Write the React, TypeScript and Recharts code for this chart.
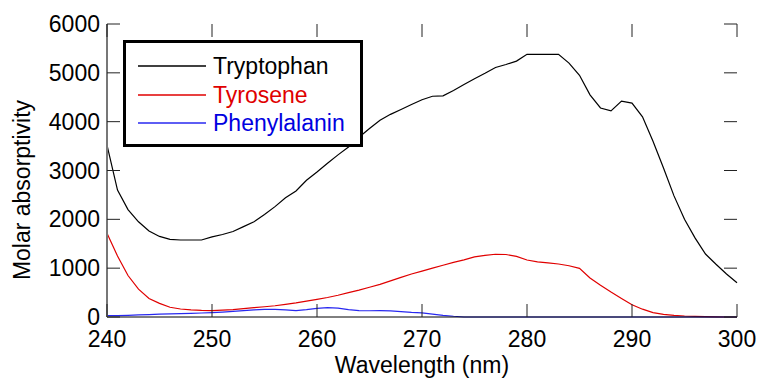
import { LineChart, Line, XAxis, YAxis, Legend } from "recharts";

const wavelengths = [
  240, 241, 242, 243, 244, 245, 246, 247, 248, 249, 250, 251, 252, 253, 254, 255, 256, 257, 258, 259,
  260, 261, 262, 263, 264, 265, 266, 267, 268, 269, 270, 271, 272, 273, 274, 275, 276, 277, 278, 279,
  280, 281, 282, 283, 284, 285, 286, 287, 288, 289, 290, 291, 292, 293, 294, 295, 296, 297, 298, 299, 300,
];

const tryptophan = [
  3520, 2600, 2200, 1950, 1760, 1650, 1590, 1577, 1577, 1577, 1640, 1690, 1750, 1850, 1950, 2100, 2260, 2440, 2580, 2800,
  2970, 3150, 3320, 3480, 3680, 3860, 4030, 4150, 4250, 4350, 4450, 4520, 4530, 4640, 4760, 4880, 4990, 5110, 5170, 5240,
  5380, 5380, 5380, 5380, 5200, 4950, 4550, 4280, 4220, 4420, 4380, 4100, 3600, 3050, 2480, 2000, 1620, 1290, 1080, 880, 700,
];

const tyrosene = [
  1713, 1250, 850, 570, 380, 280, 200, 164, 145, 135, 130, 140, 150, 170, 190, 210, 230, 260, 290, 325,
  362, 400, 445, 500, 550, 610, 669, 740, 810, 880, 940, 1000, 1060, 1120, 1170, 1230, 1260, 1285, 1280, 1240,
  1167, 1130, 1110, 1085, 1050, 997, 800, 650, 510, 380, 250, 160, 89, 55, 35, 20, 12, 6, 3, 0, 0,
];

const phenylalanin = [
  27, 30, 35, 42, 50, 58, 65, 70, 75, 82, 89, 100, 115, 130, 145, 155, 157, 145, 132, 150,
  175, 191, 180, 150, 130, 128, 130, 125, 110, 95, 85, 60, 35, 15, 0, 0, 0, 0, 0, 0,
  0, 0, 0, 0, 0, 0, 0, 0, 0, 0, 0, 0, 0, 0, 0, 0, 0, 0, 0, 0, 0,
];

const xTicks = [240, 250, 260, 270, 280, 290, 300];
const yTicks = [0, 1000, 2000, 3000, 4000, 5000, 6000];

const series = [
  { key: "tryptophan", name: "Tryptophan", color: "#000000", text: "#000000" },
  { key: "tyrosene", name: "Tyrosene", color: "#e00000", text: "#e00000" },
  { key: "phenylalanin", name: "Phenylalanin", color: "#2828f0", text: "#0000e0" },
];

const data = wavelengths.map((w, i) => ({
  w,
  tryptophan: tryptophan[i],
  tyrosene: tyrosene[i],
  phenylalanin: phenylalanin[i],
}));

const FONT = "'Liberation Sans', Arial, sans-serif";
const PLOT_TOP = 24;
const PLOT_LEFT = 107;
const PLOT_RIGHT = 737;
const TICK_LEN = 13;

function XTick({ x, y, payload }: any) {
  return (
    <g>
      <line x1={x} y1={y} x2={x} y2={y - TICK_LEN} stroke="#222" />
      <line x1={x} y1={PLOT_TOP} x2={x} y2={PLOT_TOP + TICK_LEN} stroke="#222" />
      <text x={x} y={y + 30} textAnchor="middle" fontSize={23} fontFamily={FONT} fill="#000">
        {payload.value}
      </text>
    </g>
  );
}

function YTick({ x, y, payload }: any) {
  return (
    <g>
      <line x1={PLOT_LEFT} y1={y} x2={PLOT_LEFT + TICK_LEN} y2={y} stroke="#222" />
      <line x1={PLOT_RIGHT} y1={y} x2={PLOT_RIGHT - TICK_LEN} y2={y} stroke="#222" />
      <text x={x - 7} y={y + 8} textAnchor="end" fontSize={23} fontFamily={FONT} fill="#000">
        {payload.value}
      </text>
    </g>
  );
}

function LegendBox() {
  return (
    <div
      style={{
        border: "3px solid #000",
        background: "#fff",
        width: 240,
        height: 107,
        boxSizing: "border-box",
        paddingTop: 9,
        fontFamily: FONT,
        fontSize: 23,
        textAlign: "left",
      }}
    >
      {series.map((s) => (
        <div key={s.key} style={{ display: "flex", alignItems: "center", height: 28.5 }}>
          <svg width={68} height={6} style={{ marginLeft: 12, marginRight: 7, display: "block" }}>
            <line x1={0} y1={3} x2={68} y2={3} stroke={s.color} strokeWidth={1.3} />
          </svg>
          <span style={{ color: s.text, lineHeight: "28px" }}>{s.name}</span>
        </div>
      ))}
    </div>
  );
}

export default function App() {
  return (
    <div style={{ width: 758, height: 381, background: "#fff" }}>
      <style>{"body{margin:0}"}</style>
      <LineChart width={758} height={381} data={data} margin={{ top: PLOT_TOP, right: 21, left: 0, bottom: 0 }}>
        <XAxis
          dataKey="w"
          type="number"
          domain={[240, 300]}
          ticks={xTicks}
          height={64}
          tickSize={0}
          tickMargin={0}
          tick={<XTick />}
          axisLine={{ stroke: "#000" }}
          label={{
            content: () => (
              <text x={422} y={373} textAnchor="middle" fontSize={23} fontFamily={FONT} fill="#000">
                Wavelength (nm)
              </text>
            ),
          }}
        />
        <XAxis xAxisId="top" orientation="top" dataKey="w" type="number" domain={[240, 300]} height={0} tick={false} tickLine={false} axisLine={{ stroke: "#333" }} />
        <YAxis
          type="number"
          domain={[0, 6000]}
          ticks={yTicks}
          width={PLOT_LEFT}
          tickSize={0}
          tickMargin={0}
          tick={<YTick />}
          axisLine={{ stroke: "#777", strokeWidth: 2 }}
          label={{
            content: () => (
              <text x={30} y={190} textAnchor="middle" fontSize={23} fontFamily={FONT} fill="#000" transform="rotate(-90 30 190)">
                Molar absorptivity
              </text>
            ),
          }}
        />
        <YAxis yAxisId="right" orientation="right" type="number" domain={[0, 6000]} width={0} tick={false} tickLine={false} axisLine={{ stroke: "#333" }} />
        <Legend
          layout="vertical"
          verticalAlign="middle"
          align="center"
          content={<LegendBox />}
          wrapperStyle={{ position: "absolute", left: 123, top: 40, width: 240, height: 107, margin: 0 }}
        />
        {series.map((s) => (
          <Line
            key={s.key}
            type="linear"
            dataKey={s.key}
            name={s.name}
            stroke={s.color}
            strokeWidth={1.2}
            dot={false}
            isAnimationActive={false}
          />
        ))}
      </LineChart>
    </div>
  );
}
